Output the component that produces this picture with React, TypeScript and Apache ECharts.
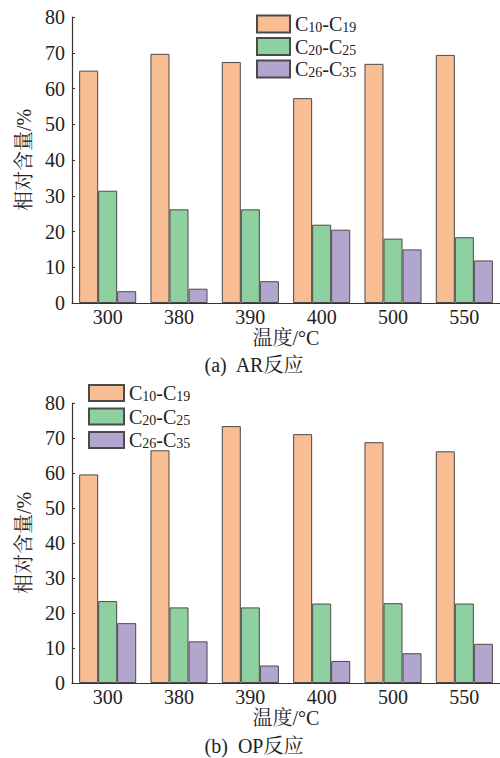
import React, { useEffect, useRef } from "react";
import * as echarts from "echarts";

const categories = ["300", "380", "390", "400", "500", "550"];
const seriesNames = ["C10-C19", "C20-C25", "C26-C35"];

// (a) AR反应
const arC10C19 = [65.0, 69.7, 67.4, 57.3, 66.9, 69.4];
const arC20C25 = [31.4, 26.2, 26.2, 21.9, 18.0, 18.4];
const arC26C35 = [3.3, 4.0, 6.1, 20.5, 15.0, 11.9];

// (b) OP反应
const opC10C19 = [59.6, 66.5, 73.4, 71.1, 68.8, 66.2];
const opC20C25 = [23.4, 21.6, 21.6, 22.7, 22.8, 22.7];
const opC26C35 = [17.1, 11.9, 5.0, 6.3, 8.5, 11.2];

const yTicks = { min: 0, max: 80, interval: 10 };
const captions = ["(a)  AR反应", "(b)  OP反应"];
const xName = "温度/°C";
const yName = "相对含量/%";

const colors = ["#F8BD93", "#8FD0A0", "#B2A6CE"];
const FONT = "'Liberation Serif', 'Times New Roman', 'Noto Serif CJK SC', 'Noto Sans CJK SC', serif";

const legendRich = {
  c: { fontSize: 20, fontFamily: FONT, color: "#222", lineHeight: 17 },
  s: { fontSize: 14, fontFamily: FONT, color: "#222", verticalAlign: "bottom", lineHeight: 12, padding: [0, 0, -2, 0] },
};

function legendFormatter(name: string) {
  const m = name.match(/C(\d+)-C(\d+)/);
  if (!m) return name;
  return `{c|C}{s|${m[1]}}{c|-C}{s|${m[2]}}`;
}

export default function App() {
  const ref = useRef<HTMLDivElement>(null);
  useEffect(() => {
    if (!ref.current) return;
    const chart = echarts.init(ref.current, null, { renderer: "svg" });
    const axisColor = "#333";
    const makeX = (gridIndex: number) => ({
      type: "category",
      gridIndex,
      data: categories,
      name: xName,
      nameLocation: "middle",
      nameGap: 25,
      nameTextStyle: { fontSize: 20, fontFamily: FONT, color: "#222" },
      axisLine: { lineStyle: { color: axisColor, width: 1.2 } },
      axisTick: { show: false },
      axisLabel: { fontSize: 20, fontFamily: FONT, color: "#222", margin: 4 },
    });
    const makeY = (gridIndex: number) => ({
      type: "value",
      gridIndex,
      min: yTicks.min,
      max: yTicks.max,
      interval: yTicks.interval,
      name: yName,
      nameLocation: "middle",
      nameGap: 37,
      nameTextStyle: { fontSize: 20, fontFamily: FONT, color: "#222" },
      axisLine: { show: true, lineStyle: { color: axisColor, width: 1.2 } },
      axisTick: { show: true, inside: true, length: 3, lineStyle: { color: axisColor } },
      axisLabel: { fontSize: 20, fontFamily: FONT, color: "#222", margin: 7 },
      splitLine: { show: false },
    });
    const makeSeries = (idx: number, data: number[][]) =>
      data.map((d, i) => ({
        name: seriesNames[i],
        type: "bar",
        xAxisIndex: idx,
        yAxisIndex: idx,
        data: d,
        barGap: "0%",
        barCategoryGap: "20%",
        itemStyle: { color: colors[i], borderColor: "#4a4a4a", borderWidth: 1 },
      }));
    const legendBase = {
      data: seriesNames,
      orient: "vertical",
      padding: 0,
      icon: "rect",
      formatter: legendFormatter,
      textStyle: { fontSize: 20, fontFamily: FONT, lineHeight: 17, rich: legendRich },
    };
    chart.setOption({
      animation: false,
      color: colors,
      grid: [
        { left: 72, top: 17, right: -4, bottom: 455, containLabel: false },
        { left: 72, top: 403, right: -4, bottom: 75, containLabel: false },
      ],
      legend: [
        { ...legendBase, left: 256, top: 14, itemWidth: 33, itemHeight: 17, itemGap: 2 },
        { ...legendBase, left: 88, top: 383, itemWidth: 35, itemHeight: 16, itemGap: 3 },
      ],
      xAxis: [makeX(0), makeX(1)],
      yAxis: [makeY(0), makeY(1)],
      series: [
        ...makeSeries(0, [arC10C19, arC20C25, arC26C35]),
        ...makeSeries(1, [opC10C19, opC20C25, opC26C35]),
      ],
      graphic: [
        {
          type: "text",
          x: 254,
          y: 365,
          style: { text: captions[0], font: `20px ${FONT}`, fill: "#222", textAlign: "center", textVerticalAlign: "middle" },
        },
        {
          type: "text",
          x: 254,
          y: 746,
          style: { text: captions[1], font: `20px ${FONT}`, fill: "#222", textAlign: "center", textVerticalAlign: "middle" },
        },
      ],
    });
    return () => chart.dispose();
  }, []);
  return (
    <div
      ref={ref}
      style={{ position: "absolute", left: 0, top: 0, width: 500, height: 758, background: "#fff" }}
    />
  );
}
